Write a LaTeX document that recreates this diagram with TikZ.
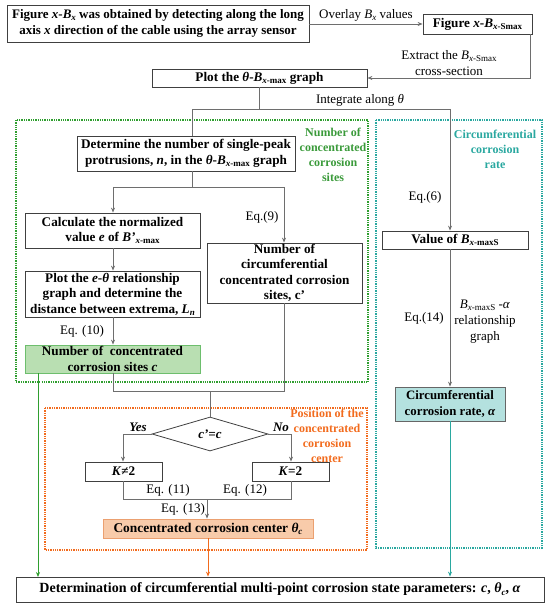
\documentclass[tikz,border=0pt]{standalone}
\usepackage{fontspec}
\setmainfont{Liberation Serif}
\usetikzlibrary{arrows.meta,shapes.geometric}
\definecolor{gline}{HTML}{2F9E2F}
\definecolor{gtext}{HTML}{3A9A3A}
\definecolor{gfill}{HTML}{B9DFB2}
\definecolor{gbord}{HTML}{6DBE6D}
\definecolor{tline}{HTML}{2AA8A0}
\definecolor{tfill}{HTML}{B4E1DF}
\definecolor{oline}{HTML}{F26B1D}
\definecolor{ofill}{HTML}{F8CBAA}
\definecolor{obord}{HTML}{EBA070}
\definecolor{conn}{HTML}{6E6E6E}
\newcommand{\lo}[1]{\raisebox{-0.35ex}{\fontsize{9}{9}\selectfont #1}}
\tikzset{
  box/.style={draw=black!75, line width=0.8pt, fill=white, font=\fontsize{13.2}{15.5}\selectfont\bfseries, align=center, inner sep=0pt},
  lbl/.style={font=\fontsize{13}{16}\selectfont, align=center, inner sep=0pt},
  grp/.style={font=\fontsize{12}{15}\selectfont\bfseries, align=center, inner sep=0pt},
  cn/.style={draw=conn, line width=0.8pt},
  arr/.style={cn, -{Stealth[length=5pt,width=4pt]}},
  dotbox/.style={densely dotted, line width=1.3pt}
}
\begin{document}
\begin{tikzpicture}[x=1pt,y=-1pt]
\useasboundingbox (0,0) rectangle (550,609);
% group frames
\draw[dotbox, gline] (16,120) rectangle (368,382);
\draw[dotbox, tline] (376,120) rectangle (542,548);
\draw[dotbox, oline] (45,408) rectangle (367,550);
% top boxes
\node[box, minimum width=302pt, minimum height=37pt, font=\fontsize{13}{15.5}\selectfont\bfseries] (b1) at (158,23.5) {Figure \textit{x}-\textit{B}\lo{\textit{x}} was obtained by detecting along the long\\axis \textit{x} direction of the cable using the array sensor};
\node[box, minimum width=109pt, minimum height=20pt] (b2) at (477.5,24) {Figure \textit{x}-\textit{B}\lo{\textit{x}-Smax}};
\node[box, minimum width=215pt, minimum height=18pt] (b3) at (259.5,78) {Plot the \textit{θ}-\textit{B}\lo{\textit{x}-max} graph};
% green group
\node[box, minimum width=218pt, minimum height=35pt] (det) at (186,153.5) {Determine the number of single-peak\\protrusions, \textit{n}, in the \textit{θ}-\textit{B}\lo{\textit{x}-max} graph};
\node[box, minimum width=175pt, minimum height=35pt] (calc) at (112.5,230.5) {Calculate the normalized\\value \textit{e} of \textit{B'}\lo{\textit{x}-max}};
\node[box, minimum width=155pt, minimum height=60pt] (circ) at (284.5,273) {Number of\\circumferential\\concentrated corrosion\\sites, c'};
\node[box, minimum width=175pt, minimum height=46pt] (plot) at (112.5,294) {Plot the \textit{e}-\textit{θ} relationship\\graph and determine the\\distance between extrema, \textit{L}\lo{\textit{n}}};
\node[box, draw=gbord, fill=gfill, minimum width=175pt, minimum height=28pt] (cbox) at (112.5,359) {Number of\ \ concentrated\\corrosion sites \textit{c}};
\node[grp, text=gtext] (gl) at (333,155) {Number of\\concentrated\\corrosion\\sites};
% teal group
\node[box, minimum width=146pt, minimum height=18pt] (val) at (455,240) {Value of \textit{B}\lo{\textit{x}-maxS}};
\node[box, fill=tfill, draw=black!60, minimum width=110pt, minimum height=34pt, font=\fontsize{12.8}{15.5}\selectfont\bfseries] (rate) at (450,404) {Circumferential\\corrosion rate, \textit{α}};
\node[grp, text=tline] (tl) at (495,149) {Circumferential\\corrosion\\rate};
% orange group
\node[box, diamond, minimum width=116pt, minimum height=34pt, font=\fontsize{13}{15.5}\selectfont\bfseries\itshape] (dia) at (210,434) {c’=c};
\node[box, minimum width=77pt, minimum height=19pt] (kne) at (123.5,471.5) {\textit{K}≠2};
\node[box, minimum width=77pt, minimum height=19pt] (keq) at (290.5,471.5) {\textit{K}=2};
\node[box, draw=obord, fill=ofill, minimum width=210pt, minimum height=19pt, font=\fontsize{13.4}{15.5}\selectfont\bfseries] (cen) at (208,528.5) {Concentrated corrosion center \textit{θ}\lo{\textit{c}}};
\node[grp, text=oline] (ol) at (327,435.5) {Position of the\\concentrated\\corrosion\\center};
% final
\node[box, minimum width=528pt, minimum height=25pt, font=\fontsize{14}{16}\selectfont\bfseries] (fin) at (280,589.5) {Determination of circumferential multi-point corrosion state parameters: \textit{c}, \textit{θ}\lo{\textit{c}}, \textit{α}};
% connector coordinates
\coordinate (j1) at (259.5,109);
\coordinate (j2) at (192,109);
\coordinate (j3) at (450,109);
\coordinate (k1) at (192,187);
\coordinate (k2) at (113,187);
\coordinate (k3) at (284,187);
\coordinate (m1) at (113,391);
\coordinate (m2) at (284,391);
\coordinate (m3) at (210,391);
\coordinate (y1) at (123,434);
\coordinate (n1) at (291,434);
\coordinate (q1) at (123,499);
\coordinate (q2) at (291,499);
\coordinate (q3) at (207,499);
% connectors
\draw[arr] (b1.east |- b2.west) -- (b2.west);
\draw[arr] ([xshift=-2pt]b2.south east) |- (b3.east);
\draw[cn] (j1 |- b3.south) -- (j1);
\draw[cn] (j2 |- det.north) -- (j2) -- (j3);
\draw[arr] (j3) -- (j3 |- val.north);
\draw[cn] (k1 |- det.south) -- (k1);
\draw[cn] (k2) -- (k3);
\draw[arr] (k2) -- (k2 |- calc.north);
\draw[arr] (k3) -- (k3 |- circ.north);
\draw[arr] (k2 |- calc.south) -- (k2 |- plot.north);
\draw[arr] (k2 |- plot.south) -- (k2 |- cbox.north);
\draw[cn] (m1 |- cbox.south) -- (m1) -- (m2) -- (m2 |- circ.south);
\draw[cn] (m3) -- (dia.north);
\draw[cn] (dia.west) -- (y1);
\draw[arr] (y1) -- (y1 |- kne.north);
\draw[cn] (dia.east) -- (n1);
\draw[arr] (n1) -- (n1 |- keq.north);
\draw[cn] (q1 |- kne.south) -- (q1) -- (q2) -- (q2 |- keq.south);
\draw[arr] (q3) -- (q3 |- cen.north);
\draw[arr] (j3 |- val.south) -- (j3 |- rate.north);
\draw[gline, line width=0.8pt, -{Stealth[length=5pt,width=4pt]}] (38,373) -- (38,577);
\draw[oline, line width=0.8pt, -{Stealth[length=5pt,width=4pt]}] (cen.south) -- (cen.south |- fin.north);
\draw[tline, line width=0.8pt, -{Stealth[length=5pt,width=4pt]}] (rate.south) -- (rate.south |- fin.north);
% labels
\node[lbl] (l1) at (366,15) {Overlay \textit{B}\lo{\textit{x}} values};
\node[lbl] (l2) at (449,63) {Extract the \textit{B}\lo{\textit{x}-Smax}\\cross-section};
\node[lbl] (l3) at (360,100) {Integrate along \textit{θ}};
\node[lbl] (l4) at (425,197) {Eq.(6)};
\node[lbl] (l5) at (262,217) {Eq.(9)};
\node[lbl] (l6) at (82,331) {Eq. (10)};
\node[lbl] (l7) at (424,318) {Eq.(14)};
\node[lbl] (l8) at (485,322) {\textit{B}\lo{\textit{x}-maxS} -\textit{α}\\relationship\\graph};
\node[lbl, font=\fontsize{13}{15}\selectfont\bfseries\itshape] (l9) at (138,427) {Yes};
\node[lbl, font=\fontsize{13}{15}\selectfont\bfseries\itshape] (l10) at (281,427) {No};
\node[lbl] (l11) at (168,490) {Eq. (11)};
\node[lbl] (l12) at (245,490) {Eq. (12)};
\node[lbl] (l13) at (183,509) {Eq. (13)};
\end{tikzpicture}
\end{document}
